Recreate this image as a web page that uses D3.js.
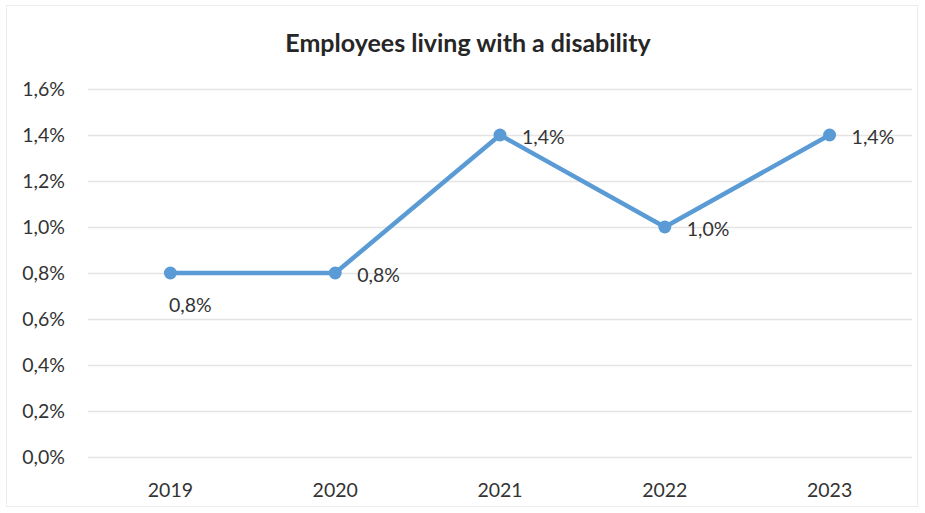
<!DOCTYPE html>
<html><head><meta charset="utf-8">
<script src="https://cdn.jsdelivr.net/npm/d3@7"></script>
<style>body{margin:0;background:#fff;} svg{display:block;}</style>
</head><body>
<script>
const categories = ["2019","2020","2021","2022","2023"];
const values = [0.8, 0.8, 1.4, 1.0, 1.4];
const yTicks = [0,0.2,0.4,0.6,0.8,1.0,1.2,1.4,1.6];
const labelPos = ["below","right","right","right","right"];
const title = "Employees living with a disability";

const W = 925, H = 513;
const m = {left: 88, right: 13, top: 89, bottom: 56};
const fmt = v => v.toFixed(1).replace(".", ",") + "%";
const font = "Lato, 'Open Sans', sans-serif";
const fs = 19.5;

const svg = d3.select("body").append("svg").attr("width", W).attr("height", H);
svg.append("rect").attr("x",6.5).attr("y",5.5).attr("width",W-14).attr("height",H-12)
  .attr("fill","#fff").attr("stroke","#ececec");

const x = d3.scaleBand().domain(categories).range([m.left, W - m.right]);
const y = d3.scaleLinear().domain([0, 1.6]).range([H - m.bottom, m.top]);

svg.append("text").attr("x", 468).attr("y", 52).attr("text-anchor","middle")
  .attr("font-family", font).attr("font-weight","bold").attr("font-size", 25)
  .attr("fill","#262626").text(title);

const yAxis = d3.axisLeft(y).tickValues(yTicks).tickFormat(fmt)
  .tickSize(-(W - m.right - m.left)).tickPadding(23);
const gy = svg.append("g").attr("transform", `translate(${m.left},0)`).call(yAxis);
gy.select(".domain").remove();
gy.selectAll(".tick line").attr("stroke","#e4e4e4").attr("stroke-width",1.5);
gy.selectAll(".tick text").attr("font-family", font).attr("font-size", fs).attr("fill","#333");

const xAxis = d3.axisBottom(x).tickSize(0).tickPadding(26);
const gx = svg.append("g").attr("transform", `translate(0,${H - m.bottom})`).call(xAxis);
gx.select(".domain").remove();
gx.selectAll(".tick text").attr("font-family", font).attr("font-size", fs).attr("fill","#333");

const cx = c => x(c) + x.bandwidth()/2;
const data = categories.map((c,i)=>({c, v: values[i], p: labelPos[i]}));
svg.append("path").datum(data)
  .attr("d", d3.line().x(d=>cx(d.c)).y(d=>y(d.v)))
  .attr("fill","none").attr("stroke","#5b9bd5").attr("stroke-width",4.5)
  .attr("stroke-linejoin","round");
svg.selectAll("circle.pt").data(data).join("circle").attr("class","pt")
  .attr("cx", d=>cx(d.c)).attr("cy", d=>y(d.v)).attr("r", 6.5).attr("fill","#5b9bd5");
svg.selectAll("text.lbl").data(data).join("text").attr("class","lbl")
  .attr("x", d=> d.p==="below" ? cx(d.c) + 20 : cx(d.c) + 22)
  .attr("y", d=> d.p==="below" ? y(d.v) + 39 : y(d.v) + 9)
  .attr("text-anchor", d=> d.p==="below" ? "middle" : "start")
  .attr("font-family", font).attr("font-size", fs).attr("fill","#333")
  .text(d=>fmt(d.v));
</script>
</body></html>
